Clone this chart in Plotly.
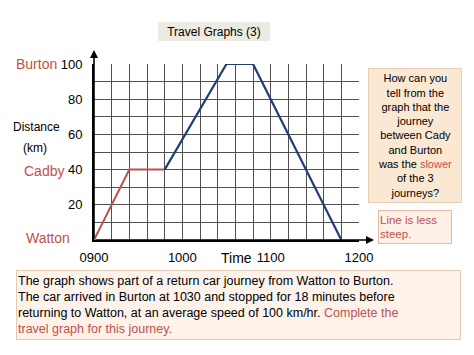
import plotly.graph_objects as go

# Data (minutes after 0900, distance km)
leg1_minutes = [0, 24, 48]
leg1_km = [0, 40, 40]
leg2_minutes = [48, 90, 108, 168]
leg2_km = [40, 100, 100, 0]

x_grid = list(range(0, 181, 12))
x_labels = {0: "0900", 60: "1000", 120: "1100", 180: "1200"}
y_grid = list(range(0, 101, 10))
y_labels = {20: "20", 40: "40", 60: "60", 80: "80", 100: "100"}

RED = "#c0504d"
BLUE = "#1f3d78"
FONT = "Liberation Sans"

W, H = 474, 355
L, R, T, B = 94, 115, 64, 115
PW, PH = W - L - R, H - T - B


def px(x):
    return (x - L) / PW


def py(y):
    return (H - B - y) / PH


fig = go.Figure()
fig.add_trace(go.Scatter(x=leg1_minutes, y=leg1_km, mode="lines",
                         line=dict(color=RED, width=2), hoverinfo="skip"))
fig.add_trace(go.Scatter(x=leg2_minutes, y=leg2_km, mode="lines",
                         line=dict(color=BLUE, width=2.2), hoverinfo="skip"))

fig.update_layout(
    width=W, height=H, margin=dict(l=L, r=R, t=T, b=B),
    paper_bgcolor="white", plot_bgcolor="white", showlegend=False,
    font=dict(family=FONT, color="black"),
    xaxis=dict(range=[0, 180], tickvals=x_grid,
               ticktext=[x_labels.get(v, "") for v in x_grid],
               showgrid=True, gridcolor="#505050", gridwidth=1,
               zeroline=False, showline=True, linecolor="black", linewidth=2,
               ticks="", ticklabelstandoff=4,
               tickfont=dict(size=13, color="black", family=FONT)),
    yaxis=dict(range=[0, 100], tickvals=y_grid,
               ticktext=[y_labels.get(v, "") for v in y_grid],
               showgrid=True, gridcolor="#505050", gridwidth=1,
               zeroline=False, showline=True, linecolor="black", linewidth=2,
               ticks="", ticklabelstandoff=7,
               tickfont=dict(size=13, color="black", family=FONT)),
)

ann = []
# axis arrows
ann.append(dict(x=0, xref="x", y=py(50), yref="paper", ax=0, ay=190,
                showarrow=True, arrowhead=2, arrowsize=1, arrowwidth=1.6,
                arrowcolor="black", text=""))
ann.append(dict(x=px(374), xref="paper", y=0, yref="y", ax=-280, ay=0,
                showarrow=True, arrowhead=2, arrowsize=1, arrowwidth=1.6,
                arrowcolor="black", text=""))


def label(text, x, y, color="black", size=13, xanchor="center"):
    ann.append(dict(x=px(x), y=py(y), xref="paper", yref="paper", text=text,
                    showarrow=False, xanchor=xanchor, yanchor="middle",
                    font=dict(size=size, color=color, family=FONT)))


label("Burton", 36, 64, RED, 14)
label("Distance", 36, 127, "black", 12)
label("(km)", 35, 148, "black", 12)
label("Cadby", 44, 171, RED, 14)
label("Watton", 48, 238, RED, 14)
label("Time", 236, 258, "black", 14)


def box(text, x, y, w, h, bg, border, size, color="black", align="center"):
    ann.append(dict(x=px(x), y=py(y), xref="paper", yref="paper", text=text,
                    showarrow=False, xanchor="center", yanchor="middle",
                    align=align, width=w, height=h, bgcolor=bg,
                    bordercolor=border, borderwidth=1 if border else 0,
                    borderpad=1, font=dict(size=size, color=color, family=FONT)))


# title box
box("Travel Graphs (3)", 214, 32, 110, 17, "#ecebe3", None, 12)

# question box
q = ("How can you<br>tell from the<br>graph that the<br>journey<br>"
     "between Cady<br>and Burton<br>was the <span style='color:%s'>slower</span><br>"
     "of the 3<br>journeys?" % RED)
box(q, 415, 135, 90, 131, "#fbe8d2", "#e6cfb6", 11)

# answer box
box("Line is less<br>steep.", 415, 227, 70, 30, "#fdf1e6", "#e8b9a8", 11.5,
    color=RED, align="left")

# bottom box
bt = ("The graph shows part of a return car journey from Watton to Burton.<br>"
      "The car arrived in Burton at 1030 and stopped for 18 minutes before<br>"
      "returning to Watton, at an average speed of 100 km/hr. "
      "<span style='color:%s'>Complete the<br>travel graph for this journey.</span>" % RED)
box(bt, 238.5, 305, 441, 66, "#fdf3ea", "#e3cbb8", 12.5, align="left")

fig.update_layout(annotations=ann)
fig.write_html("out.html")
